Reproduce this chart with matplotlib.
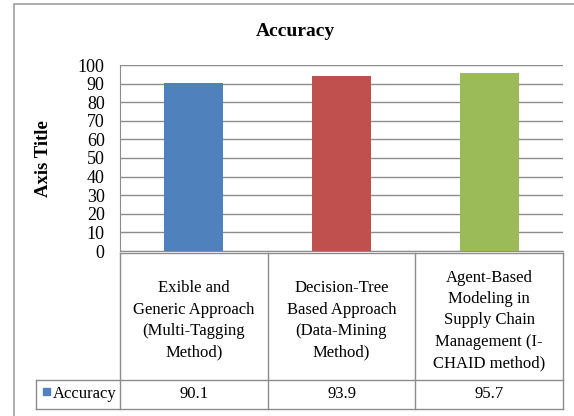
import matplotlib
matplotlib.use("Agg")
import matplotlib.pyplot as plt
from matplotlib.patches import Rectangle

plt.rcParams['font.family'] = ['Liberation Serif', 'DejaVu Serif']

categories = ["Exible and\nGeneric Approach\n(Multi-Tagging\nMethod)",
              "Decision-Tree\nBased Approach\n(Data-Mining\nMethod)",
              "Agent-Based\nModeling in\nSupply Chain\nManagement (I-\nCHAID method)"]
accuracy = [90.1, 93.9, 95.7]
colors = ["#4F81BD", "#C0504D", "#9BBB59"]
yticks = list(range(0, 101, 10))

W, H = 574, 416
fig = plt.figure(figsize=(W / 100, H / 100), dpi=100)
grid_c = "#8c8c8c"

# outer chart border (cropped at right and bottom)
fig.patches.append(Rectangle((14 / W, -0.1), 1.2, 1 - 4 / H + 0.1, transform=fig.transFigure,
                             fill=False, edgecolor="#a0a0a0", linewidth=1.2))

# plot area
px_l, px_r, px_t, px_b = 120, 563, 65, 251
ax = fig.add_axes([px_l / W, 1 - px_b / H, (px_r - px_l) / W, (px_b - px_t) / H])
x = range(len(accuracy))
ax.bar(x, accuracy, width=0.4, color=colors, zorder=3)
ax.set_xlim(-0.5, 2.5)
ax.set_ylim(0, 100)
ax.set_yticks(yticks)
ax.set_xticks([])
ax.tick_params(axis='y', length=0, pad=11, labelsize=13)
ax.grid(axis='y', color=grid_c, linewidth=1, zorder=0)
for s in ['top', 'right']:
    ax.spines[s].set_visible(False)
ax.spines['left'].set_color(grid_c)
ax.spines['bottom'].set_color(grid_c)

fig.text(295 / W, 1 - 32 / H, "Accuracy", ha='center', va='center', fontsize=14, fontweight='bold')
fig.text(43 / W, 1 - 159 / H, "Axis Title", ha='center', va='center', rotation=90,
         fontsize=13.5, fontweight='bold')

# data table below the plot area, sharing the category positions
t_l, t_t, t_b = 36, 253, 409
cat_w = (px_r - px_l) / 3
tx0 = -0.5 - (px_l - t_l) / cat_w
tax = fig.add_axes([t_l / W, 1 - t_b / H, (px_r - t_l) / W, (t_b - t_t) / H])
tax.set_xlim(tx0, 2.5)
tax.set_ylim(0, t_b - t_t)
tax.invert_yaxis()
tax.axis('off')
row_y = 380 - t_t
bottom = t_b - t_t
lk = dict(color=grid_c, linewidth=1, clip_on=False)
tax.plot([-0.5, 2.5], [0, 0], **lk)
tax.plot([tx0, 2.5], [row_y, row_y], **lk)
tax.plot([tx0, 2.5], [bottom, bottom], **lk)
tax.plot([tx0, tx0], [row_y, bottom], **lk)
for i in range(len(accuracy) + 1):
    xv = i - 0.5
    tax.plot([xv, xv], [0, bottom], **lk)

for i, (cat, val) in enumerate(zip(categories, accuracy)):
    tax.text(i, row_y / 2 + 4, cat, ha='center', va='center', fontsize=12, linespacing=1.45)
    tax.text(i, (row_y + bottom) / 2, f"{val}", ha='center', va='center', fontsize=12)

key_x = tx0 + 7 / cat_w
tax.add_patch(Rectangle((key_x, 135), 7 / cat_w, 7, color=colors[0], clip_on=False))
tax.text(tx0 + 17 / cat_w, (row_y + bottom) / 2, "Accuracy", ha='left', va='center', fontsize=12)

fig.savefig("out.png", dpi=100)
